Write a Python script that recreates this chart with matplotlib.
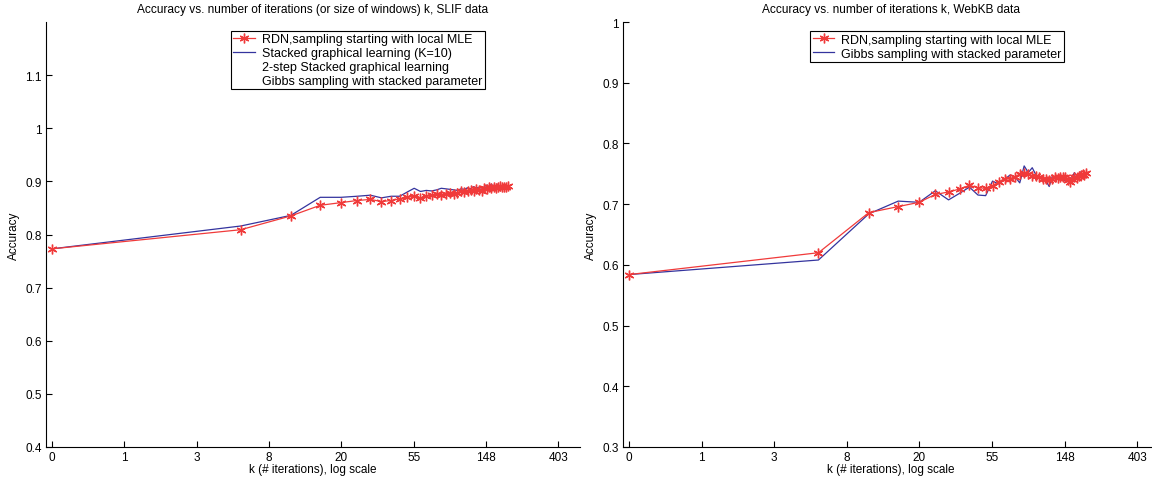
import numpy as np
import matplotlib
matplotlib.use("Agg")
import matplotlib.pyplot as plt
from matplotlib.lines import Line2D
from matplotlib.ticker import FormatStrFormatter

plt.rcParams['font.family'] = ['Liberation Sans', 'DejaVu Sans']

# number of iterations k (0..200, step 5)
k = np.arange(0, 205, 5)

# SLIF data
slif_rdn = [0.773, 0.809, 0.835, 0.855, 0.860, 0.864, 0.866, 0.862, 0.864, 0.867,
            0.870, 0.872, 0.869, 0.872, 0.874, 0.876, 0.875, 0.877, 0.878, 0.877,
            0.879, 0.881, 0.880, 0.882, 0.883, 0.882, 0.885, 0.884, 0.881, 0.887,
            0.886, 0.889, 0.888, 0.890, 0.888, 0.889, 0.891, 0.889, 0.890, 0.889, 0.891]
slif_stacked = [0.773, 0.816, 0.836, 0.870, 0.870, 0.872, 0.874, 0.869, 0.872, 0.872,
                0.880, 0.887, 0.881, 0.883, 0.882, 0.884, 0.887, 0.886, 0.885, 0.884,
                0.883, 0.886, 0.885, 0.888, 0.886, 0.890, 0.887, 0.889, 0.880, 0.890,
                0.893, 0.889, 0.895, 0.889, 0.886, 0.895, 0.888, 0.890, 0.894, 0.889, 0.892]

# WebKB data
webkb_rdn = [0.584, 0.620, 0.686, 0.696, 0.703, 0.716, 0.720, 0.725, 0.731, 0.727,
             0.726, 0.730, 0.737, 0.742, 0.742, 0.745, 0.750, 0.751, 0.749, 0.747,
             0.746, 0.744, 0.742, 0.741, 0.740, 0.742, 0.744, 0.743, 0.745, 0.744,
             0.744, 0.740, 0.737, 0.741, 0.745, 0.743, 0.746, 0.748, 0.750, 0.748, 0.751]
webkb_gibbs = [0.584, 0.608, 0.684, 0.705, 0.703, 0.722, 0.707, 0.718, 0.728, 0.715,
               0.714, 0.738, 0.733, 0.741, 0.748, 0.745, 0.735, 0.763, 0.752, 0.760,
               0.748, 0.745, 0.741, 0.738, 0.729, 0.745, 0.744, 0.746, 0.742, 0.740,
               0.738, 0.737, 0.736, 0.745, 0.752, 0.746, 0.750, 0.753, 0.745, 0.750, 0.746]

tick_labels = ['0', '1', '3', '8', '20', '55', '148', '403']

RED = '#f03a3a'
BLUE = '#34349e'
STAR = (6, 2, 0)  # matlab-like asterisk


def logpos(kk):
    # k=0 is put at 0, otherwise log(k)+1
    kk = np.asarray(kk, dtype=float)
    out = np.zeros_like(kk)
    out[kk > 0] = np.log(kk[kk > 0]) + 1
    return out


def style_axes(ax, ylim, yticks):
    ax.set_xlim(-0.083, 7.3)
    ax.set_ylim(*ylim)
    ax.set_xticks(range(len(tick_labels)))
    ax.set_xticklabels(tick_labels)
    ax.set_yticks(yticks)
    ax.yaxis.set_major_formatter(FormatStrFormatter('%g'))
    ax.spines['top'].set_visible(False)
    ax.spines['right'].set_visible(False)
    for s in ('left', 'bottom'):
        ax.spines[s].set_linewidth(0.8)
    ax.tick_params(direction='in', length=4, width=0.8, labelsize=8.5, pad=3)
    ax.set_xlabel('k (# iterations), log scale', fontsize=8.5, labelpad=0)
    ax.set_ylabel('Accuracy', fontsize=8.5, labelpad=4)


def add_legend(ax, handles, labels, anchor):
    leg = ax.legend(handles, labels, loc='upper left', bbox_to_anchor=anchor,
                    fontsize=9, frameon=True, fancybox=False, edgecolor='black',
                    framealpha=1, borderpad=0.2, labelspacing=0.15,
                    handlelength=1.75, handletextpad=0.55, borderaxespad=0)
    leg.get_frame().set_linewidth(0.8)


fig = plt.figure(figsize=(11.52, 4.81), dpi=100)
ax1 = fig.add_axes([46 / 1152, 33 / 481, 534 / 1152, 425 / 481])
ax2 = fig.add_axes([623 / 1152, 33 / 481, 536 / 1152, 425 / 481])

x = logpos(k)
red_kw = dict(color=RED, lw=0.9, marker=STAR, ms=7, mew=1.0)

# left: SLIF
ax1.plot(x, slif_stacked, color=BLUE, lw=0.9)
ax1.plot(x, slif_rdn, **red_kw)
style_axes(ax1, (0.4, 1.2), np.arange(0.4, 1.15, 0.1))
ax1.set_title('Accuracy vs. number of iterations (or size of windows) k, SLIF data',
              fontsize=8.6, pad=7)
add_legend(ax1,
           [Line2D([], [], **red_kw), Line2D([], [], color=BLUE, lw=0.9),
            Line2D([], [], color='none'), Line2D([], [], color='none')],
           ['RDN,sampling starting with local MLE',
            'Stacked graphical learning (K=10)',
            '2-step Stacked graphical learning',
            'Gibbs sampling with stacked parameter'],
           (0.346, 0.98))

# right: WebKB
ax2.plot(x, webkb_gibbs, color=BLUE, lw=0.9)
ax2.plot(x, webkb_rdn, **red_kw)
style_axes(ax2, (0.3, 1.0), np.arange(0.3, 1.05, 0.1))
ax2.set_title('Accuracy vs. number of iterations k, WebKB data',
              fontsize=8.6, pad=7)
add_legend(ax2,
           [Line2D([], [], **red_kw), Line2D([], [], color=BLUE, lw=0.9)],
           ['RDN,sampling starting with local MLE',
            'Gibbs sampling with stacked parameter'],
           (0.349, 0.978))

fig.savefig('out.png', dpi=100)
